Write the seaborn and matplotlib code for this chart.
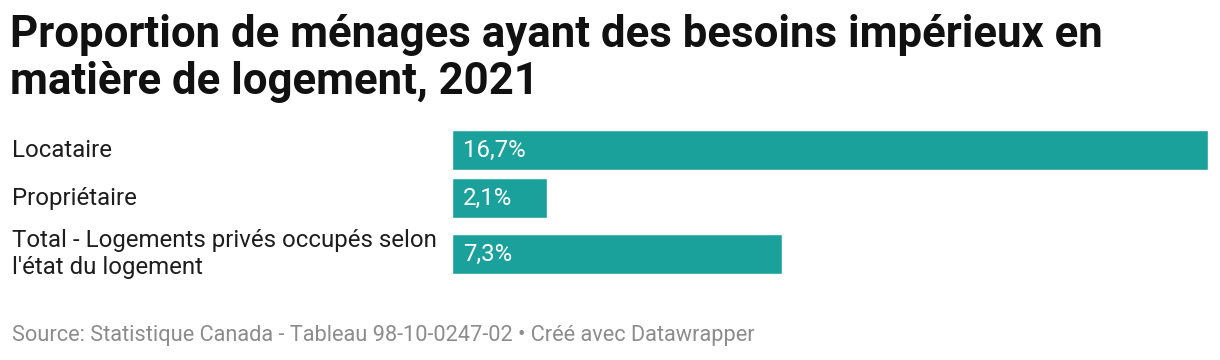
import matplotlib
matplotlib.use("Agg")
import matplotlib.pyplot as plt
import seaborn as sns
import pandas as pd

categories = ["Locataire", "Propriétaire", "Total - Logements privés occupés selon\nl'état du logement"]
values = [16.7, 2.1, 7.3]
value_labels = ["16,7%", "2,1%", "7,3%"]

title = "Proportion de ménages ayant des besoins impérieux en\nmatière de logement, 2021"
source = "Source: Statistique Canada - Tableau 98-10-0247-02 • Créé avec Datawrapper"

sns.set_theme(style="white")
plt.rcParams["font.family"] = ["Roboto", "DejaVu Sans"]

W, H = 1220, 360
fig = plt.figure(figsize=(W / 100, H / 100), dpi=100)

color = "#1ba19c"
bar_left, bar_right = 452, 1208
rows_top = [130, 178, 234]
bar_h = 40
vmax = max(values)

for cat, val, lab, top in zip(categories, values, value_labels, rows_top):
    ax = fig.add_axes([bar_left / W, 1 - (top + bar_h) / H, (bar_right - bar_left) / W, bar_h / H])
    df = pd.DataFrame({"cat": [cat], "val": [val]})
    sns.barplot(data=df, x="val", y="cat", color=color, width=1.0, saturation=1, ax=ax, orient="h")
    ax.set_xlim(0, vmax)
    ax.set_ylim(0.5, -0.5)
    for s in ax.spines.values():
        s.set_visible(False)
    ax.set_xticks([])
    ax.set_yticks([])
    ax.set_xlabel("")
    ax.set_ylabel("")
    ax.text(11 / (bar_right - bar_left), 0.5, lab, transform=ax.transAxes, color="white",
            fontsize=17.3, va="center", ha="left")
    fig.text(12 / W, 1 - (top + bar_h / 2) / H, cat, fontsize=17.3, color="#1d1d1d",
             va="center", ha="left", linespacing=1.25)

fig.text(10 / W, 1 - 14 / H, title, fontsize=31.5, fontweight="bold", color="#111111",
         va="top", ha="left", linespacing=1.15)
fig.text(12 / W, 1 - 335 / H, source, fontsize=15.7, color="#8c8c8c", va="center", ha="left")

fig.savefig("out.png", dpi=100, facecolor="white")
